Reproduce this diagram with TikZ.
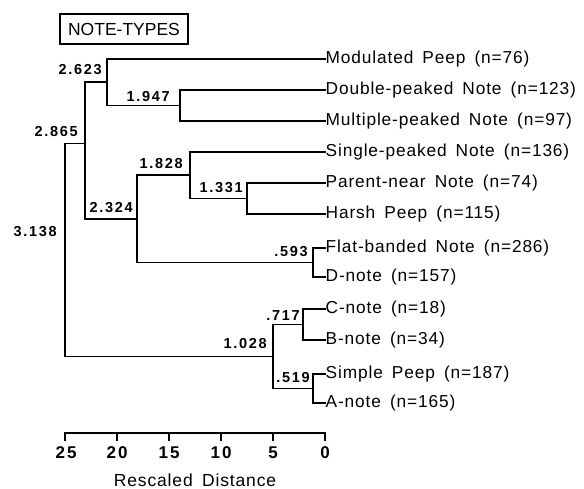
\documentclass[tikz,border=0pt]{standalone}
\usepackage{fontspec}
\setmainfont{Liberation Sans}
\newfontfamily\leaffont[LetterSpace=5,WordSpace=1.6]{Liberation Sans}
\newfontfamily\numfont[LetterSpace=12]{Liberation Sans}
\begin{document}
\begin{tikzpicture}[x=1pt,y=-1pt,
  tree/.style={line width=1.7pt,line cap=rect},
  leaf/.style={anchor=west,inner sep=0pt,inner xsep=0.5pt,font=\leaffont\fontsize{17.3}{19}\selectfont},
  dist/.style={anchor=east,inner sep=0pt,font=\numfont\bfseries\fontsize{14.5}{16}\selectfont},
  axnum/.style={inner sep=0pt,font=\numfont\bfseries\fontsize{17}{18}\selectfont},
  title/.style={draw,line width=1.4pt,inner sep=0pt,minimum width=128pt,minimum height=30pt,font=\fontsize{17.5}{18}\selectfont}]
\useasboundingbox (0,0) rectangle (584,489);
\fill[white] (0,0) rectangle (584,489);
% title
\node[title] (ttl) at (124,29) {NOTE-TYPES};
% leaves
\node[leaf] (mp) at (325,59) {Modulated Peep (n=76)};
\node[leaf] (dp) at (325,90) {Double-peaked Note (n=123)};
\node[leaf] (mu) at (325,121) {Multiple-peaked Note (n=97)};
\node[leaf] (sp) at (325,152) {Single-peaked Note (n=136)};
\node[leaf] (pn) at (325,183) {Parent-near Note (n=74)};
\node[leaf] (hp) at (325,214) {Harsh Peep (n=115)};
\node[leaf] (fb) at (325,248) {Flat-banded Note (n=286)};
\node[leaf] (dn) at (325,277) {D-note (n=157)};
\node[leaf] (cn) at (325,309) {C-note (n=18)};
\node[leaf] (bn) at (325,340) {B-note (n=34)};
\node[leaf] (sip) at (325,374) {Simple Peep (n=187)};
\node[leaf] (an) at (325,403) {A-note (n=165)};
% internal nodes
\coordinate (c1947) at (180,105.5);
\coordinate (c2623) at (107,82);
\coordinate (c1331) at (247,198.5);
\coordinate (c1828) at (190,175);
\coordinate (c593) at (313,262.5);
\coordinate (c2324) at (137,219);
\coordinate (c2865) at (85,143.5);
\coordinate (c717) at (303,324.5);
\coordinate (c519) at (313,388.5);
\coordinate (c1028) at (273,356.5);
\coordinate (c3138) at (65,251);
% connectors
\draw[tree] (dp.west) -| (c1947) |- (mu.west);
\draw[tree] (mp.west) -| (c2623) |- (c1947);
\draw[tree] (pn.west) -| (c1331) |- (hp.west);
\draw[tree] (sp.west) -| (c1828) |- (c1331);
\draw[tree] (fb.west) -| (c593) |- (dn.west);
\draw[tree] (c1828) -| (c2324) |- (c593);
\draw[tree] (c2623) -| (c2865) |- (c2324);
\draw[tree] (cn.west) -| (c717) |- (bn.west);
\draw[tree] (sip.west) -| (c519) |- (an.west);
\draw[tree] (c717) -| (c1028) |- (c519);
\draw[tree] (c2865) -| (c3138) |- (c1028);
% distance labels
\node[dist] (l2623) at (102,70) {2.623};
\node[dist] (l2865) at (78,132) {2.865};
\node[dist] (l1947) at (170,97) {1.947};
\node[dist] (l1828) at (183,164) {1.828};
\node[dist] (l1331) at (243,188) {1.331};
\node[dist] (l2324) at (133,208) {2.324};
\node[dist] (l3138) at (57,232) {3.138};
\node[dist] (l593) at (308,252) {.593};
\node[dist] (l717) at (300,316) {.717};
\node[dist] (l1028) at (267,344) {1.028};
\node[dist] (l519) at (310,378) {.519};
% axis
\coordinate (a25) at (65,433);
\coordinate (a20) at (117,433);
\coordinate (a15) at (169,433);
\coordinate (a10) at (221,433);
\coordinate (a5) at (273,433);
\coordinate (a0) at (325,433);
\draw[tree] (a25) -- (a0);
\foreach \t in {a25,a20,a15,a10,a5,a0} \draw[tree] (\t) -- ++(0,7);
\node[axnum] (n25) at (66,453) {25};
\node[axnum] (n20) at (117,453) {20};
\node[axnum] (n15) at (169,453) {15};
\node[axnum] (n10) at (221,453) {10};
\node[axnum] (n5) at (273,453) {5};
\node[axnum] (n0) at (325,453) {0};
\node[inner sep=0pt,font=\leaffont\fontsize{17.5}{19}\selectfont] (xl) at (195,480) {Rescaled Distance};
\end{tikzpicture}
\end{document}
